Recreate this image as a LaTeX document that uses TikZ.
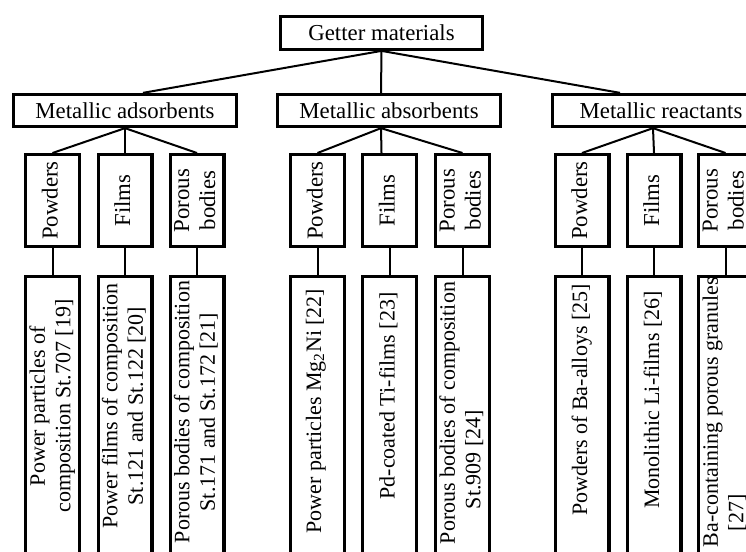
\documentclass[tikz,border=0pt]{standalone}
\usepackage{fontspec}
\setmainfont{Liberation Serif}
\usepackage{graphicx}
\newcommand{\vtext}[2][c]{\rotatebox{90}{\begin{tabular}{@{}#1@{}}#2\end{tabular}}}

\begin{document}
\begin{tikzpicture}[x=1pt, y=-1pt,
	box/.style={draw, line width=3.3pt, inner sep=0pt, font=\fontsize{22.8}{26}\selectfont},
	topbox/.style={box, minimum width=201.5pt, minimum height=32.5pt},
	groupbox/.style={box, minimum width=222.5pt, minimum height=32pt},
	kindbox/.style={box, minimum width=53.7pt, minimum height=91.7pt},
	leafbox/.style={box, anchor=north, minimum width=53.7pt, minimum height=320pt},
	leaftext/.style={inner sep=0pt, font=\fontsize{22}{25.5}\selectfont},
	link/.style={line width=2pt}]
	\useasboundingbox (0,0) rectangle (746,551);
	\clip (0,0) rectangle (746,551);
	% top
	\node[topbox] (getter) at (381.5,33) {Getter materials};
	% groups
	\node[groupbox] (ads) at (125,110.5) {Metallic adsorbents};
	\node[groupbox] (abs) at (389,110.5) {Metallic absorbents};
	\node[groupbox, minimum width=217pt] (rea) at (661,110.5) {Metallic reactants};
	% kinds
	\node[kindbox] (adp) at (52.5,200.5) {\vtext{Powders}};
	\node[kindbox] (adf) at (125,200.5) {\vtext{Films}};
	\node[kindbox] (adb) at (197,200.5) {\vtext{Porous\\bodies}};
	\node[kindbox] (abp) at (317.5,200.5) {\vtext{Powders}};
	\node[kindbox] (abf) at (389.5,200.5) {\vtext{Films}};
	\node[kindbox] (abb) at (462.5,200.5) {\vtext{Porous\\bodies}};
	\node[kindbox] (rep) at (582,200.5) {\vtext{Powders}};
	\node[kindbox] (ref) at (654,200.5) {\vtext{Films}};
	\node[kindbox] (reb) at (725.5,200.5) {\vtext{Porous\\bodies}};
	% leaves
	\node[leafbox] (ad4p) at (52.5,274.6) {};
	\node[leafbox] (ad4f) at (125,274.6) {};
	\node[leafbox] (ad4b) at (197,274.6) {};
	\node[leafbox] (ab4p) at (317.5,274.6) {};
	\node[leafbox] (ab4f) at (389.5,274.6) {};
	\node[leafbox] (ab4b) at (462.5,274.6) {};
	\node[leafbox] (re4p) at (582,274.6) {};
	\node[leafbox] (re4f) at (654,274.6) {};
	\node[leafbox] (re4b) at (725.5,274.6) {};
	\node[leaftext] (ad4pt) at (52.5,406) {\vtext{Power particles of\\composition St.707 [19]}};
	\node[leaftext] (ad4ft) at (125,406) {\vtext{Power films of composition\\St.121 and St.122 [20]}};
	\node[leaftext] (ad4bt) at (197,412) {\vtext{Porous bodies of composition\\St.171 and St.172 [21]}};
	\node[leaftext] (ab4pt) at (316,411) {\vtext{Power particles Mg\textsubscript{2}Ni [22]}};
	\node[leaftext] (ab4ft) at (389.5,396) {\vtext{Pd-coated Ti-films [23]}};
	\node[leaftext] (ab4bt) at (462.5,413) {\vtext[l]{Porous bodies of composition\\\hspace*{35pt}St.909 [24]}};
	\node[leaftext] (re4pt) at (582,400) {\vtext{Powders of Ba-alloys [25]}};
	\node[leaftext] (re4ft) at (654,400) {\vtext{Monolithic Li-films [26]}};
	\node[leaftext] (re4bt) at (725.5,412) {\vtext[l]{Ba-containing porous granules\\\hspace*{16pt}[27]}};
	% links
	\draw[link] (getter.south) -- ([xshift=18pt]ads.north);
	\draw[link] (getter.south) -- ([xshift=-8pt]abs.north);
	\draw[link] (getter.south) -- ([xshift=-41pt]rea.north);
	\draw[link] (ads.south) -- (adp.north);
	\draw[link] (ads.south) -- (adf.north);
	\draw[link] (ads.south) -- (adb.north);
	\draw[link] ([xshift=-8pt]abs.south) -- (abp.north);
	\draw[link] ([xshift=-8pt]abs.south) -- ([xshift=-8pt]abf.north);
	\draw[link] ([xshift=-8pt]abs.south) -- (abb.north);
	\draw[link] ([xshift=-8pt]rea.south) -- (rep.north);
	\draw[link] ([xshift=-8pt]rea.south) -- (ref.north);
	\draw[link] ([xshift=-8pt]rea.south) -- (reb.north);
	\foreach \k/\l in {adp/ad4p, adf/ad4f, adb/ad4b, abp/ab4p, abf/ab4f, abb/ab4b, rep/re4p, ref/re4f, reb/re4b}
		\draw[link] (\k.south) -- (\l.north);
\end{tikzpicture}
\end{document}
